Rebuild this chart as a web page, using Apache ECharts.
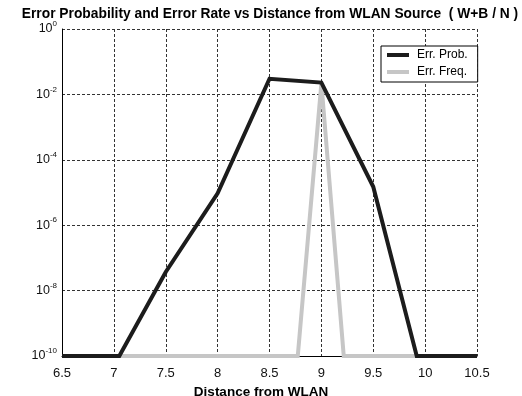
<!DOCTYPE html>
<html>
<head>
<meta charset="utf-8">
<script src="https://cdn.jsdelivr.net/npm/echarts@6/dist/echarts.min.js"></script>
<style>
html,body{margin:0;padding:0;background:#fff;}
#c{width:522px;height:396px;}
</style>
</head>
<body>
<div id="c"></div>
<script>
// ---- data ----
var distance = [6.5, 7, 7.5, 8, 8.5, 9, 9.5, 10, 10.5];
var errProb  = [1e-11, 5e-11, 3.7e-8, 9.5e-6, 0.03, 0.023, 1.5e-5, 1e-11, 1e-11];
var errFreq  = [1e-20, 1e-20, 1e-20, 1e-20, 1e-20, 0.022, 1e-21, 1e-20, 1e-20];
var xTicks = [6.5, 7, 7.5, 8, 8.5, 9, 9.5, 10, 10.5];
var yExponents = [0, -2, -4, -6, -8, -10];
var seriesNames = ['Err. Prob.', 'Err. Freq.'];

var FONT = 'Liberation Sans, Arial, sans-serif';

function makeRender(xs, ys) {
  return function (params, api) {
    if (params.dataIndex !== 0) return null;
    var cs = params.coordSys;
    var bottom = cs.y + cs.height;
    var pts = [];
    for (var i = 0; i < xs.length; i++) pts.push(api.coord([xs[i], ys[i]]));
    var out = [];
    for (var j = 0; j < pts.length; j++) {
      var p = pts[j];
      out.push([p[0], Math.min(p[1], bottom)]);
      if (j < pts.length - 1) {
        var q = pts[j + 1];
        if ((p[1] - bottom) * (q[1] - bottom) < 0) {
          var t = (bottom - p[1]) / (q[1] - p[1]);
          out.push([p[0] + t * (q[0] - p[0]), bottom]);
        }
      }
    }
    return {
      type: 'polyline',
      shape: { points: out },
      style: { fill: null, stroke: api.visual('color'), lineWidth: 4, lineJoin: 'miter' }
    };
  };
}

function toData(xs, ys) {
  return xs.map(function (x, i) { return [x, ys[i]]; });
}

var chart = echarts.init(document.getElementById('c'), null, { renderer: 'canvas' });
chart.setOption({
  animation: false,
  backgroundColor: '#ffffff',
  title: {
    text: 'Error Probability and Error Rate vs Distance from WLAN Source  ( W+B / N )',
    left: 265, top: 2, textAlign: 'center',
    textStyle: { fontFamily: FONT, fontSize: 13.8, fontWeight: 'bold', color: '#000' }
  },
  legend: {
    orient: 'vertical',
    left: 381, top: 46,
    padding: [2, 10, 3, 6],
    itemGap: 3,
    itemWidth: 22, itemHeight: 4,
    borderColor: '#000', borderWidth: 1,
    backgroundColor: '#fff',
    textStyle: { fontFamily: FONT, fontSize: 12, color: '#000', lineHeight: 14, padding: [0, 0, 0, 3] },
    data: [{ name: seriesNames[0], icon: 'rect' }, { name: seriesNames[1], icon: 'rect' }]
  },
  grid: { left: 62, right: 45, top: 29, bottom: 40, containLabel: false, outerBoundsMode: 'none' },
  xAxis: {
    type: 'value', min: 6.5, max: 10.5, interval: 0.5,
    name: 'Distance from WLAN', nameLocation: 'middle', nameGap: 26,
    nameTextStyle: { fontFamily: FONT, fontSize: 13.5, fontWeight: 'bold', color: '#000', padding: [0, 17, 0, 0] },
    axisLine: { show: true, onZero: false, lineStyle: { color: '#000', width: 1 } },
    axisTick: { show: false },
    axisLabel: {
      fontFamily: FONT, fontSize: 13, color: '#111', margin: 11,
      formatter: function (v) { return xTicks.indexOf(v) >= 0 ? String(v) : ''; }
    },
    splitLine: { show: true, lineStyle: { color: '#333', width: 1, type: [3, 2] } }
  },
  yAxis: {
    type: 'log', logBase: 10, min: 1e-10, max: 1, interval: 2,
    axisLine: { show: true, lineStyle: { color: '#000', width: 1 } },
    axisTick: { show: false },
    axisLabel: {
      margin: 5,
      formatter: function (v) {
        var e = Math.round(Math.log10(v));
        if (yExponents.indexOf(e) < 0) return '';
        return '{b|10}{e|' + e + '}';
      },
      rich: {
        b: { fontFamily: FONT, fontSize: 12.5, color: '#111' },
        e: { fontFamily: FONT, fontSize: 8, color: '#111', padding: [0, 0, 10, 0] }
      }
    },
    splitLine: { show: true, lineStyle: { color: '#333', width: 1, type: [3, 2] } }
  },
  series: [
    {
      name: seriesNames[1], type: 'custom', clip: false, z: 3,
      itemStyle: { color: '#c6c6c6' },
      renderItem: makeRender(distance, errFreq),
      encode: { x: 0, y: 1 },
      data: toData(distance, errFreq)
    },
    {
      name: seriesNames[0], type: 'custom', clip: false, z: 4,
      itemStyle: { color: '#1c1c1c' },
      renderItem: makeRender(distance, errProb),
      encode: { x: 0, y: 1 },
      data: toData(distance, errProb)
    }
  ]
});
</script>
</body>
</html>
